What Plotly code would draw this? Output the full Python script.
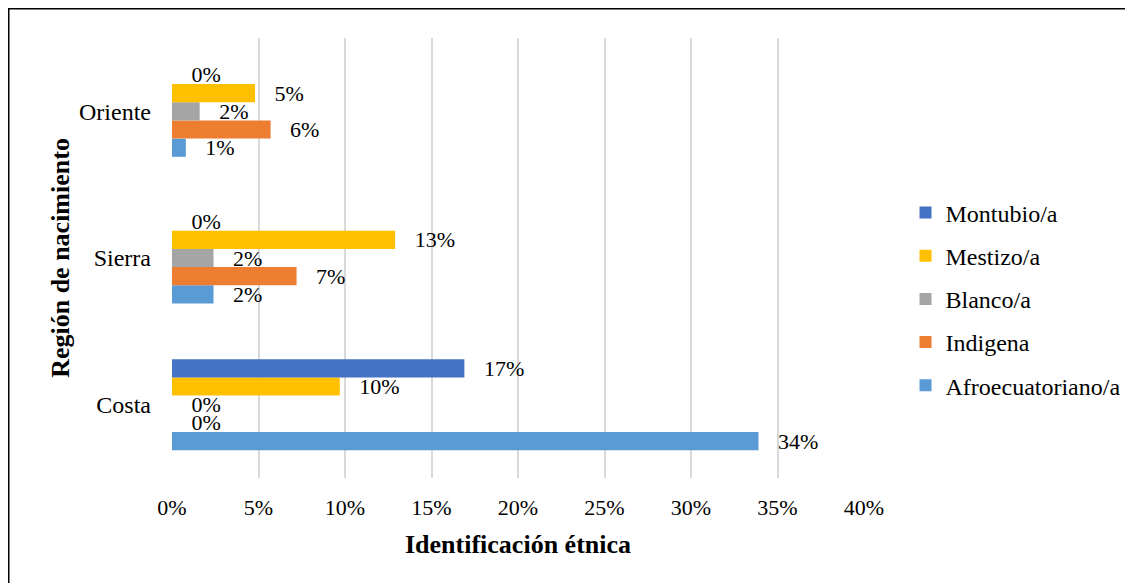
import plotly.graph_objects as go

regions = ["Costa", "Sierra", "Oriente"]
series_names = ["Afroecuatoriano/a", "Indigena", "Blanco/a", "Mestizo/a", "Montubio/a"]
afro = [33.9, 2.4, 0.8]
indigena = [0.0, 7.2, 5.7]
blanco = [0.0, 2.4, 1.6]
mestizo = [9.7, 12.9, 4.8]
montubio = [16.9, 0.0, 0.0]
colors = ["#5B9BD5", "#ED7D31", "#A5A5A5", "#FFC000", "#4472C4"]
legend_ranks = [5, 4, 3, 2, 1]
x_ticks = [0, 5, 10, 15, 20, 25, 30, 35, 40]

FONT = "Liberation Serif"
values = [afro, indigena, blanco, mestizo, montubio]

# page has an 8px body margin; figure sized/margined to compensate
L, T, PW, PH = 164, 30, 692, 440
W, H = 1125, 575

fig = go.Figure()
for name, vals, col, rk in zip(series_names, values, colors, legend_ranks):
    fig.add_trace(go.Bar(
        y=regions, x=vals, name=name, orientation="h",
        marker=dict(color=col, line=dict(width=0)),
        text=["\u00a0\u00a0\u00a0" + f"{round(v):d}%" for v in vals],
        textposition="outside", cliponaxis=False, constraintext="none",
        textfont=dict(family=FONT, size=22, color="#000000"),
        legendgroup=name, legendrank=rk,
    ))

fig.update_layout(
    width=W, height=H,
    margin=dict(l=L, r=W - L - PW, t=T, b=H - T - PH, autoexpand=False),
    paper_bgcolor="white", plot_bgcolor="white",
    barmode="group", bargap=0.38, bargroupgap=0,
    font=dict(family=FONT, size=22, color="#000000"),
    showlegend=True,
    legend=dict(x=1.060, xanchor="left", y=0.407, yanchor="middle",
                traceorder="grouped", tracegroupgap=9,
                font=dict(family=FONT, size=24, color="#000000"),
                bgcolor="rgba(0,0,0,0)"),
    xaxis=dict(range=[0, 40], tickvals=x_ticks, ticktext=[f"{t}%" for t in x_ticks],
               showgrid=True, gridcolor="#D9D9D9", gridwidth=2, zeroline=False,
               showline=False, ticks="", ticklabelstandoff=14,
               tickfont=dict(family=FONT, size=22),
               title=dict(text="<b>Identificación étnica</b>", standoff=15,
                          font=dict(family=FONT, size=26))),
    yaxis=dict(showgrid=False, zeroline=False, showline=False, ticks="",
               ticklabelstandoff=20, tickfont=dict(family=FONT, size=24),
               title=dict(text="<b>Región de nacimiento</b>", standoff=1,
                          font=dict(family=FONT, size=26))),
    shapes=[dict(type="rect", xref="paper", yref="paper",
                 x0=(0.5 - L) / PW, x1=1.6, y0=-0.6, y1=1 + (T - 0.5) / PH,
                 line=dict(color="black", width=2), fillcolor="rgba(0,0,0,0)",
                 layer="below")],
)

fig.write_html("out.html")
